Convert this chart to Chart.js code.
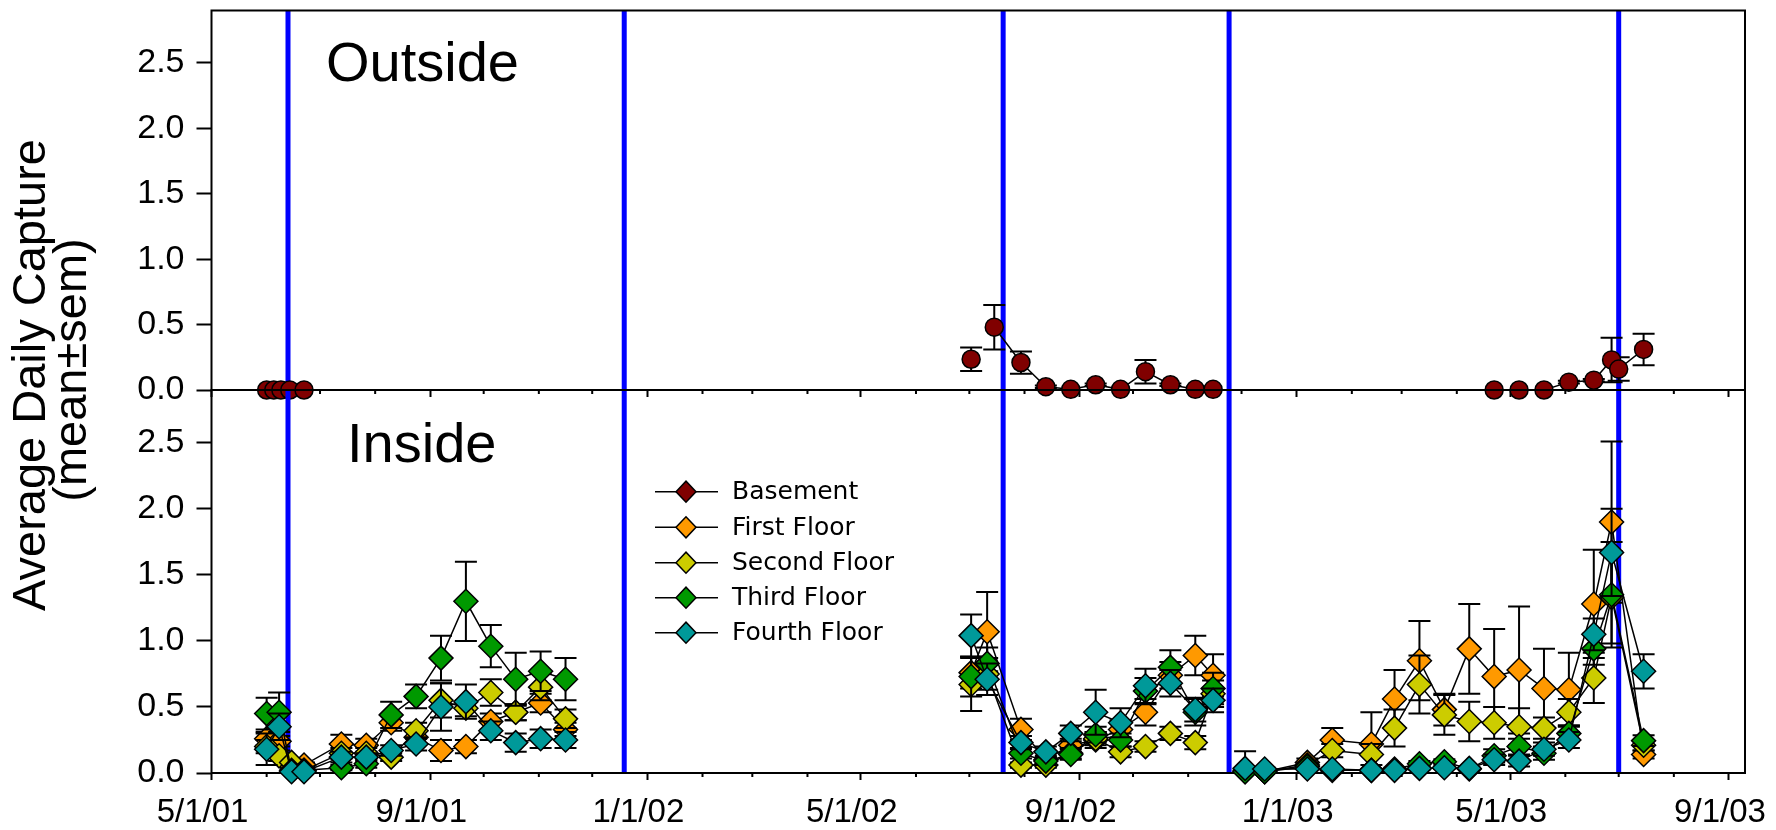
<!DOCTYPE html>
<html><head><meta charset="utf-8">
<script src="https://cdn.jsdelivr.net/npm/chart.js@4.4.1/dist/chart.umd.min.js"></script>
<style>
html,body{margin:0;padding:0;background:#fff;}
#wrap{position:relative;width:1776px;height:830px;overflow:hidden;background:#fff;}
canvas{position:absolute;left:0;top:0;}
</style></head><body>
<div id="wrap"><canvas id="topChart" width="1776" height="830"></canvas><canvas id="botChart" width="1776" height="830"></canvas></div>
<script>
// ---------- data ----------
const axisStart = '5/1/01';
const axisEnd = '9/10/03';
const xTickLabels = ['5/1/01','9/1/01','1/1/02','5/1/02','9/1/02','1/1/03','5/1/03','9/1/03'];
const yTicks = [0, 0.5, 1.0, 1.5, 2.0, 2.5];
const yMax = 2.9;
const blueLineDates = ['6/13/01','12/19/01','7/20/02','11/24/02','7/1/03'];

const insideDates = ['6/1/01','6/8/01','6/15/01','6/22/01','7/13/01','7/27/01','8/10/01','8/24/01','9/7/01','9/21/01','10/5/01','10/19/01','11/2/01','11/16/01',
 '7/2/02','7/11/02','7/30/02','8/13/02','8/27/02','9/10/02','9/24/02','10/8/02','10/22/02','11/5/02','11/15/02',
 '12/3/02','12/14/02','1/7/03','1/21/03','2/12/03','2/25/03','3/11/03','3/25/03','4/8/03','4/22/03','5/6/03','5/20/03','6/3/03','6/17/03','6/27/03','7/15/03'];
const insideBreakAfter = ['11/16/01','11/15/02'];

const basementInside = [];
const basementInsideSem = [];
const firstFloor = [0.26,0.24,0.05,0.06,0.22,0.21,0.38,0.27,0.17,0.20,0.39,0.46,0.53,0.33, 0.76,1.07,0.33,0.10,0.21,0.25,0.33,0.46,0.74,0.89,0.74, 0.02,0.01,0.08,0.25,0.22,0.56,0.85,0.48,0.94,0.73,0.78,0.64,0.63,1.28,1.90,0.14];
const firstSem = [0.05,0.04,0.02,0.02,0.07,0.05,0.06,0.05,0.08,0.05,0.06,0.06,0.07,0.05, 0.12,0.30,0.08,0.03,0.05,0.06,0.07,0.10,0.10,0.15,0.16, 0.01,0.01,0.03,0.09,0.24,0.22,0.30,0.12,0.34,0.36,0.48,0.30,0.28,0.41,0.61,0.03];
const secondFloor = [0.20,0.13,0.08,0.02,0.15,0.15,0.12,0.32,0.55,0.49,0.61,0.46,0.65,0.41, 0.67,0.75,0.06,0.06,0.15,0.26,0.16,0.20,0.30,0.23,0.60, 0.01,0.01,0.06,0.17,0.14,0.34,0.67,0.44,0.39,0.38,0.35,0.34,0.46,0.72,1.33,0.21];
const secondSem = [0.05,0.04,0.02,0.01,0.04,0.04,0.03,0.06,0.13,0.06,0.10,0.06,0.10,0.07, 0.20,0.12,0.02,0.02,0.04,0.05,0.04,0.04,0.05,0.05,0.10, 0.01,0.01,0.02,0.05,0.08,0.14,0.22,0.15,0.15,0.12,0.14,0.08,0.10,0.19,0.35,0.04];
const thirdFloor = [0.45,0.46,0.02,0.02,0.04,0.07,0.44,0.58,0.87,1.30,0.96,0.71,0.77,0.71, 0.73,0.83,0.15,0.09,0.14,0.29,0.25,0.62,0.80,0.46,0.64, 0.01,0.01,0.05,0.02,0.02,0.03,0.07,0.085,0.03,0.13,0.20,0.15,0.30,0.94,1.35,0.245];
const thirdSem = [0.12,0.15,0.01,0.01,0.02,0.03,0.10,0.09,0.17,0.30,0.16,0.20,0.15,0.16, 0.15,0.12,0.04,0.03,0.04,0.06,0.05,0.10,0.13,0.10,0.12, 0.01,0.01,0.02,0.01,0.01,0.01,0.02,0.02,0.01,0.05,0.06,0.05,0.06,0.12,0.40,0.04];
const fourthFloor = [0.18,0.35,0.01,0.01,0.12,0.12,0.17,0.22,0.50,0.54,0.32,0.23,0.26,0.25, 1.04,0.71,0.23,0.16,0.30,0.46,0.38,0.66,0.68,0.48,0.55, 0.035,0.03,0.03,0.03,0.02,0.02,0.035,0.04,0.035,0.10,0.09,0.18,0.25,1.05,1.67,0.77];
const fourthSem = [0.12,0.10,0.01,0.01,0.04,0.03,0.04,0.05,0.18,0.13,0.07,0.07,0.07,0.06, 0.16,0.12,0.05,0.04,0.06,0.17,0.11,0.13,0.10,0.09,0.09, 0.13,0.01,0.01,0.01,0.01,0.01,0.01,0.01,0.01,0.04,0.04,0.05,0.06,0.12,0.33,0.13];

const outsideDates = ['6/1/01','6/5/01','6/9/01','6/14/01','6/22/01','7/2/02','7/15/02','7/30/02','8/13/02','8/27/02','9/10/02','9/24/02','10/8/02','10/22/02','11/5/02','11/15/02','4/22/03','5/6/03','5/20/03','6/3/03','6/17/03','6/27/03','7/1/03','7/15/03'];
const outsideBreakAfter = ['6/22/01','7/2/02','11/15/02'];
const outsideVals = [0,0,0,0,0,0.235,0.48,0.21,0.025,0.005,0.04,0.005,0.14,0.04,0.005,0.005,0,0,0,0.06,0.075,0.23,0.16,0.31];
const outsideSem = [0,0,0,0,0,0.09,0.17,0.085,0.01,0,0.01,0,0.09,0.01,0,0,0,0,0,0.01,0.01,0.17,0.09,0.12];

const seriesNames = ['Basement','First Floor','Second Floor','Third Floor','Fourth Floor'];
const seriesColors = ['#800000','#FF9900','#CCCC00','#009900','#009999'];

// ---------- helpers ----------
const FONT = "'Liberation Sans', Arial, Helvetica, sans-serif";
const LEGFONT = "'DejaVu Sans', Verdana, sans-serif";
function dayNum(s){const [m,d,y]=s.split('/').map(Number);return (Date.UTC(2000+y,m-1,d)-Date.UTC(2001,4,1))/86400000;}
const xMin = dayNum(axisStart), xMax = dayNum(axisEnd);
const monthTicks = [];
for (let y=2001, m=5;;) { const s = m+'/1/'+String(y-2000).padStart(2,'0'); const d = dayNum(s); if (d > xMax) break; monthTicks.push(d); m++; if (m>12){m=1;y++;} }
const majorDays = xTickLabels.map(dayNum);

function mk(dates, vals){ return dates.map((d,i)=>({x:dayNum(d), y: vals[i]})); }
function breakSeg(dates, breaks){ const idx = breaks.map(b=>dates.indexOf(b)); return ctx => idx.includes(ctx.p0DataIndex) ? 'rgba(0,0,0,0)' : '#000'; }

const errorBars = {
  id:'errorBars',
  beforeDatasetDraw(chart, args){
    const ds = chart.data.datasets[args.index];
    if (!ds.sem) return;
    const ys = chart.scales.y, ctx = chart.ctx;
    ctx.save(); ctx.strokeStyle='#000'; ctx.lineWidth=2;
    args.meta.data.forEach((pt,i)=>{
      const v = ds.data[i].y, s = ds.sem[i];
      if (v==null || !s) return;
      const yt = ys.getPixelForValue(v+s);
      const low = v - s; const yb = ys.getPixelForValue(Math.max(0, low));
      ctx.beginPath();
      ctx.moveTo(pt.x, yt); ctx.lineTo(pt.x, yb);
      ctx.moveTo(pt.x-11, yt); ctx.lineTo(pt.x+11, yt);
      if (low > 0) { ctx.moveTo(pt.x-11, yb); ctx.lineTo(pt.x+11, yb); }
      ctx.stroke();
    });
    ctx.restore();
  }
};

const framePlugin = {
  id:'frame',
  beforeDatasetsDraw(chart){
    const {ctx, chartArea:a} = chart; const xs = chart.scales.x;
    ctx.save();
    ctx.strokeStyle='#0000FF'; ctx.lineWidth=5;
    blueLineDates.forEach(d=>{ const px = xs.getPixelForValue(dayNum(d)); ctx.beginPath(); ctx.moveTo(px, a.top); ctx.lineTo(px, a.bottom); ctx.stroke(); });
    ctx.strokeStyle='#000'; ctx.lineWidth=2;
    ctx.strokeRect(a.left, a.top, a.right-a.left, a.bottom-a.top);
    ctx.beginPath();
    monthTicks.forEach(d=>{ if (majorDays.includes(d)) return; const px = xs.getPixelForValue(d); ctx.moveTo(px, a.bottom); ctx.lineTo(px, a.bottom+4); });
    ctx.stroke();
    ctx.restore();
  }
};

const textPlugin = {
  id:'texts',
  afterDraw(chart){
    const ctx = chart.ctx;
    ctx.save();
    ctx.fillStyle='#000';
    ctx.font = '56px '+FONT; ctx.textAlign='left'; ctx.textBaseline='alphabetic';
    ctx.fillText('Outside', 326, 81);
    ctx.fillText('Inside', 347, 462);
    ctx.font = '47px '+FONT; ctx.textAlign='center'; ctx.textBaseline='middle';
    ctx.save(); ctx.translate(32, 375); ctx.rotate(-Math.PI/2); ctx.fillText('Average Daily Capture', 0, 0); ctx.restore();
    ctx.save(); ctx.translate(73, 370); ctx.rotate(-Math.PI/2); ctx.fillText('(mean\u00B1sem)', 0, 0); ctx.restore();
    const rows = [491.7, 527.3, 562.7, 597.7, 632.7];
    ctx.font = '25px '+LEGFONT; ctx.textAlign='left'; ctx.textBaseline='middle';
    seriesNames.forEach((n,i)=>{
      const y = rows[i];
      ctx.strokeStyle='#000'; ctx.lineWidth=1.5;
      ctx.beginPath(); ctx.moveTo(655,y); ctx.lineTo(718,y); ctx.stroke();
      ctx.fillStyle = seriesColors[i];
      ctx.beginPath(); ctx.moveTo(676,y); ctx.lineTo(686,y-10.5); ctx.lineTo(696,y); ctx.lineTo(686,y+10.5); ctx.closePath(); ctx.fill(); ctx.stroke();
      ctx.fillStyle='#000';
      ctx.fillText(n, 732, y+1);
    });
    ctx.restore();
  }
};

function yAxis(){
  return {
    type:'linear', min:0, max:yMax, position:'left',
    afterBuildTicks: s => { s.ticks = yTicks.map(v=>({value:v})); },
    afterFit: s => { s.width = 211.5; s.paddingTop = 0; s.paddingBottom = 0; },
    ticks:{ color:'#000', padding:12, font:{family:FONT, size:34}, callback: v => Number(v).toFixed(1) },
    grid:{ drawOnChartArea:false, drawTicks:true, tickLength:15, tickWidth:2, tickColor:'#000' },
    border:{ display:false }
  };
}
function xAxis(showLabels, h){
  return {
    type:'linear', min:xMin, max:xMax, position:'bottom',
    afterBuildTicks: s => { s.ticks = majorDays.map(v=>({value:v})); },
    afterFit: s => { s.height = h; s.paddingLeft = 0; s.paddingRight = 0; },
    ticks:{ autoSkip:false, maxRotation:0, minRotation:0, color:'#000', padding:13, labelOffset:-9, font:{family:FONT, size:33},
      callback: (v,i) => showLabels ? xTickLabels[i] : '' },
    grid:{ drawOnChartArea:false, drawTicks:true, tickLength:7, tickWidth:2, tickColor:'#000' },
    border:{ display:false }
  };
}

const commonOpts = (padTop, padBottom, h, labels) => ({
  responsive:false, animation:false, events:[],
  layout:{ padding:{ left:0, right:31, top:padTop, bottom:padBottom } },
  plugins:{ legend:{display:false}, tooltip:{enabled:false}, title:{display:false} },
  scales:{ x: xAxis(labels, h), y: yAxis() }
});

new Chart(document.getElementById('topChart'), {
  type:'line',
  data:{ datasets:[{
    label:'Outside', data: mk(outsideDates, outsideVals), sem: outsideSem,
    borderColor:'#000', borderWidth:1.5, pointStyle:'circle', pointRadius:9,
    pointBackgroundColor: seriesColors[0], pointBorderColor:'#000', pointBorderWidth:1.5,
    clip:false, segment:{ borderColor: breakSeg(outsideDates, outsideBreakAfter) }
  }]},
  options: commonOpts(6, 430, 10, false),
  plugins:[framePlugin, errorBars]
});

const insideSeries = [basementInside, firstFloor, secondFloor, thirdFloor, fourthFloor];
const insideSems = [basementInsideSem, firstSem, secondSem, thirdSem, fourthSem];
new Chart(document.getElementById('botChart'), {
  type:'line',
  data:{ datasets: insideSeries.map((vals,i)=>({
    label: seriesNames[i], data: i===0 ? [] : mk(insideDates, vals), sem: insideSems[i],
    order: 5-i,
    borderColor:'#000', borderWidth:1.5, pointStyle:'rectRot', pointRadius:12,
    pointBackgroundColor: seriesColors[i], pointBorderColor:'#000', pointBorderWidth:1.5,
    clip:false, segment:{ borderColor: breakSeg(insideDates, insideBreakAfter) }
  }))},
  options: commonOpts(390, 0, 57, true),
  plugins:[framePlugin, errorBars, textPlugin]
});
</script></body></html>
